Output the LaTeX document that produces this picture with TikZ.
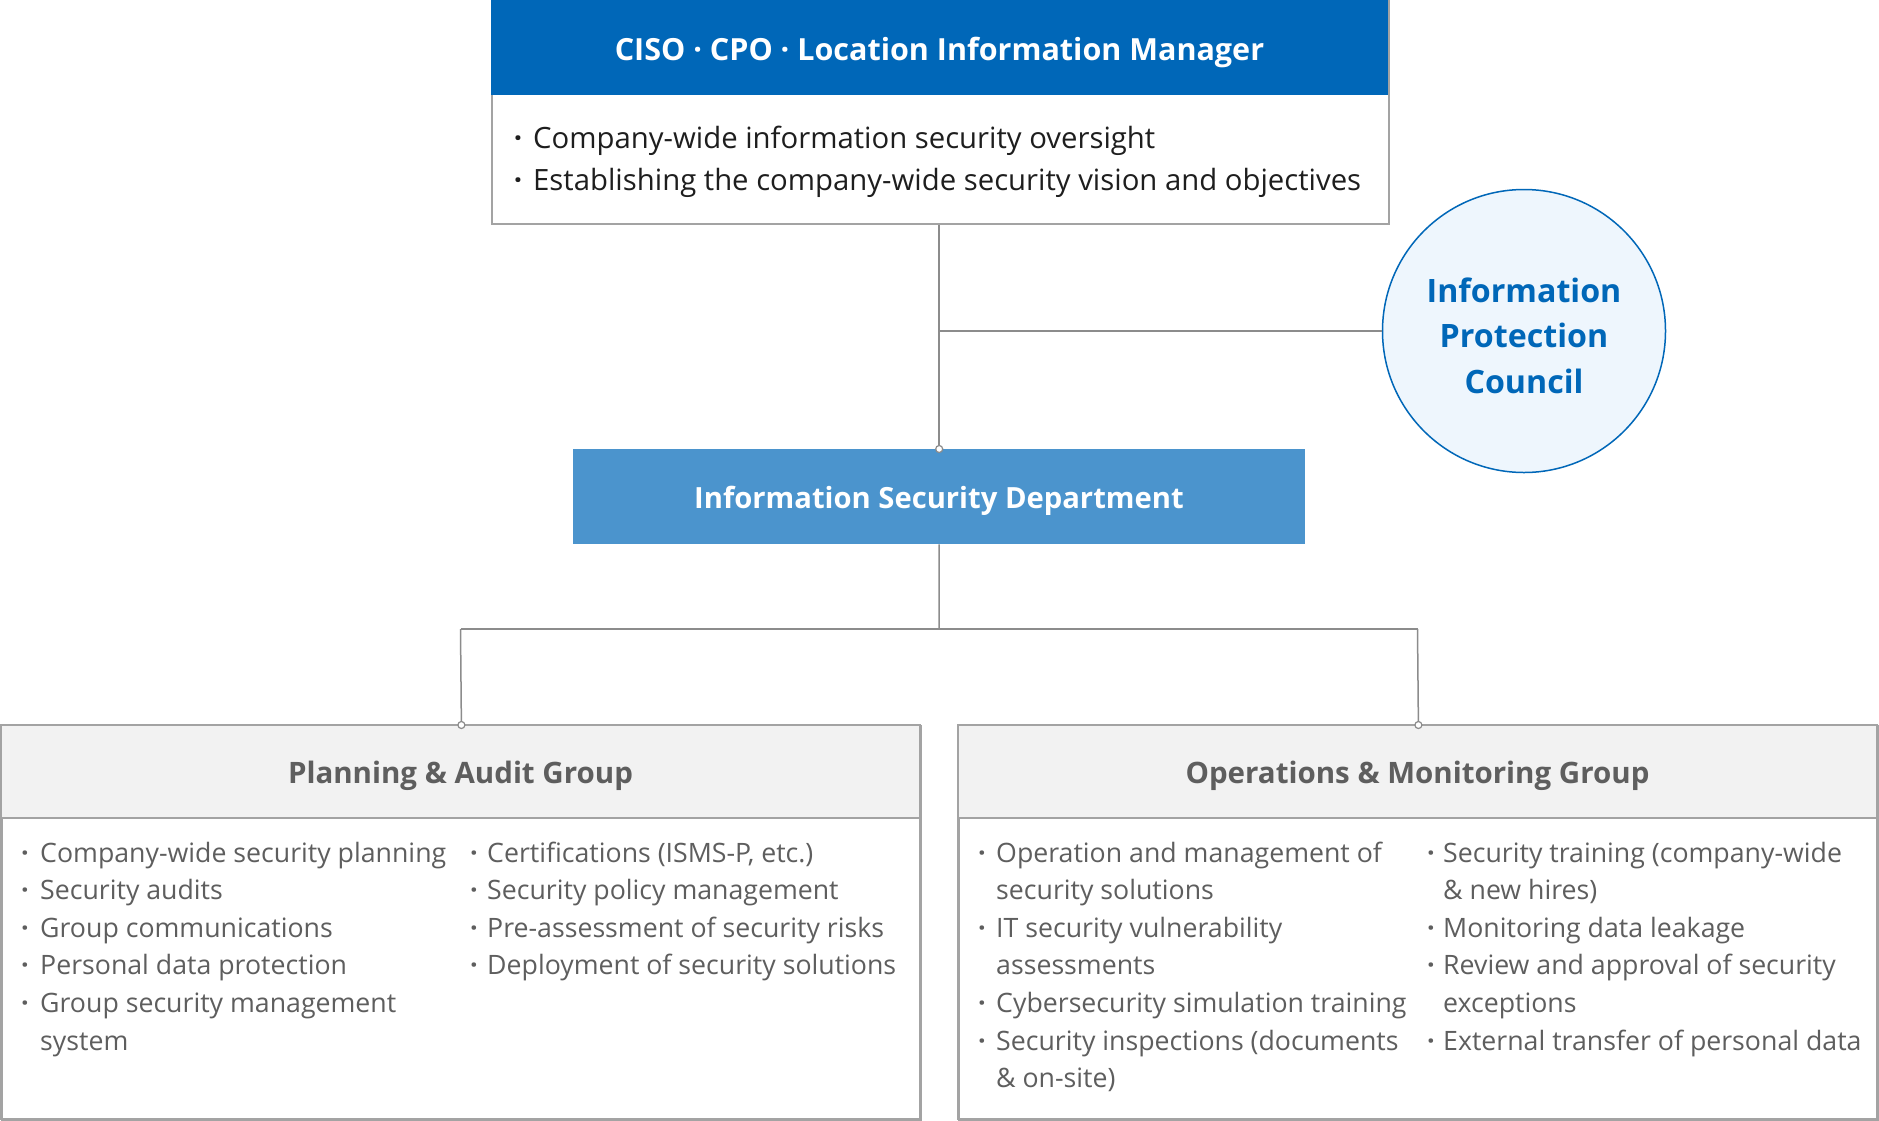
\documentclass[tikz,border=0pt]{standalone}
\usepackage{fontspec}
\setmainfont{Open Sans}
\definecolor{topblue}{HTML}{0067B8}
\definecolor{midblue}{HTML}{4B94CD}
\definecolor{circfill}{HTML}{EEF6FD}
\definecolor{linegray}{HTML}{8C8C8C}
\definecolor{boxgray}{HTML}{A3A3A3}
\definecolor{headfill}{HTML}{F2F2F2}
\definecolor{grouptext}{HTML}{5E5E5E}
\definecolor{toptext}{HTML}{1E1E1E}
\newcommand\gitem[4]{\node[gtxt] (#1) at (#2,#3) {#4};}
\newcommand\gdot[3]{\node[gdotstyle] (#1) at (#2,#3) {·};}
\newcommand\titem[4]{\node[ttxt] (#1) at (#2,#3) {#4};}
\newcommand\tdot[3]{\node[tdotstyle] (#1) at (#2,#3) {·};}
\tikzset{
  gtxt/.style={anchor=base west, inner sep=0pt, text=grouptext, font=\fontsize{26.7}{31}\selectfont},
  gdotstyle/.style={anchor=base, inner sep=0pt, text=grouptext, font=\fontsize{26.7}{31}\selectfont\bfseries},
  ttxt/.style={anchor=base west, inner sep=0pt, text=toptext, font=\fontsize{29.3}{34}\selectfont},
  tdotstyle/.style={anchor=base, inner sep=0pt, text=toptext, font=\fontsize{29.3}{34}\selectfont\bfseries},
  conn/.style={draw=linegray, line width=1.5pt},
  joint/.style={circle, draw=linegray, fill=white, line width=1.2pt, minimum size=7pt, inner sep=0pt},
  boxline/.style={draw=boxgray, line width=1.8pt},
  headtxt/.style={anchor=base, inner sep=0pt, text=grouptext, font=\fontsize{29.5}{34}\selectfont\bfseries},
  whitetxt/.style={anchor=base, inner sep=0pt, text=white, font=\fontsize{29.2}{34}\selectfont\bfseries},
  circtxt/.style={anchor=base, inner sep=0pt, text=topblue, font=\fontsize{32.2}{38}\selectfont\bfseries},
}
\begin{document}
\begin{tikzpicture}[x=1pt,y=-1pt]
\useasboundingbox (0,0) rectangle (1879,1120);
\fill[white] (0,0) rectangle (1879,1120);

% top box
\node[draw=boxgray, line width=1.5pt, fill=white, minimum width=897pt, minimum height=223pt, anchor=north west, inner sep=0pt] (top) at (491,0) {};
\fill[topblue] (491,0) rectangle (1388,95);
\node[whitetxt, font=\fontsize{30.5}{35}\selectfont\bfseries] (toptitle) at (939.5,60) {CISO · CPO · Location Information Manager};
\tdot{td1}{518}{148}
\titem{tt1}{533}{148}{Company-wide information security oversight}
\tdot{td2}{518}{190}
\titem{tt2}{533}{190}{Establishing the company-wide security vision and objectives}

% council circle
\node[circle, draw=topblue, line width=1.5pt, fill=circfill, minimum size=283pt, inner sep=0pt] (council) at (1524,331) {};
\node[circtxt] (c1) at (1524,302) {Information};
\node[circtxt] (c2) at (1524,347.5) {Protection};
\node[circtxt] (c3) at (1524,393) {Council};

% department
\node[fill=midblue, minimum width=732pt, minimum height=95pt, anchor=north west, inner sep=0pt] (isd) at (573,449) {};
\node[whitetxt] (isdtxt) at (939,508) {Information Security Department};

% groups
\node[draw=boxgray, line width=1.8pt, fill=white, minimum width=919pt, minimum height=394pt, anchor=north west, inner sep=0pt] (left) at (1,725) {};
\fill[headfill] (1,725) rectangle (920,818);
\draw[boxline] (1,725) rectangle (920,1119);
\draw[boxline] (1,818) -- (920,818);
\node[headtxt] (lefthead) at (460.5,783) {Planning \& Audit Group};

\node[draw=boxgray, line width=1.8pt, fill=white, minimum width=919pt, minimum height=394pt, anchor=north west, inner sep=0pt] (right) at (958,725) {};
\fill[headfill] (958,725) rectangle (1877,818);
\draw[boxline] (958,725) rectangle (1877,1119);
\draw[boxline] (958,818) -- (1877,818);
\node[headtxt] (righthead) at (1417.5,783) {Operations \& Monitoring Group};

% connectors
\coordinate (mid1) at (939,331);
\coordinate (mid2) at (939,629);
\coordinate (lj) at (460.5,629);
\coordinate (rj) at (1417.5,629);
\draw[conn] (top.south -| isd.north) -- (isd.north);
\draw[conn] (mid1) -- (council.west);
\draw[conn] (isd.south) -- (mid2);
\draw[conn] (lj) -- (rj);
\draw[conn] (lj) -- (left.north);
\draw[conn] (rj) -- (right.north);
\node[joint] (j0) at (isd.north) {};
\node[joint] (j1) at (left.north) {};
\node[joint] (j2) at (right.north) {};

% left group items
\gdot{l1d}{25}{862}    \gitem{l1}{40}{862}{Company-wide security planning}
\gdot{l2d}{25}{899.6}  \gitem{l2}{40}{899.6}{Security audits}
\gdot{l3d}{25}{937.2}  \gitem{l3}{40}{937.2}{Group communications}
\gdot{l4d}{25}{974.8}  \gitem{l4}{40}{974.8}{Personal data protection}
\gdot{l5d}{25}{1012.4} \gitem{l5}{40}{1012.4}{Group security management}
                       \gitem{l5b}{40}{1050}{system}
\gdot{m1d}{474}{862}   \gitem{m1}{487}{862}{Certifications (ISMS-P, etc.)}
\gdot{m2d}{474}{899.6} \gitem{m2}{487}{899.6}{Security policy management}
\gdot{m3d}{474}{937.2} \gitem{m3}{487}{937.2}{Pre-assessment of security risks}
\gdot{m4d}{474}{974.8} \gitem{m4}{487}{974.8}{Deployment of security solutions}

% right group items
\gdot{r1d}{982}{862}    \gitem{r1}{996}{862}{Operation and management of}
                        \gitem{r1b}{996}{899.6}{security solutions}
\gdot{r2d}{982}{937.2}  \gitem{r2}{996}{937.2}{IT security vulnerability}
                        \gitem{r2b}{996}{974.8}{assessments}
\gdot{r3d}{982}{1012.4} \gitem{r3}{996}{1012.4}{Cybersecurity simulation training}
\gdot{r4d}{982}{1050}   \gitem{r4}{996}{1050}{Security inspections (documents}
                        \gitem{r4b}{996}{1087.6}{\& on-site)}
\gdot{s1d}{1431}{862}    \gitem{s1}{1443}{862}{Security training (company-wide}
                         \gitem{s1b}{1443}{899.6}{\& new hires)}
\gdot{s2d}{1431}{937.2}  \gitem{s2}{1443}{937.2}{Monitoring data leakage}
\gdot{s3d}{1431}{974.8}  \gitem{s3}{1443}{974.8}{Review and approval of security}
                         \gitem{s3b}{1443}{1012.4}{exceptions}
\gdot{s4d}{1431}{1050}   \gitem{s4}{1443}{1050}{External transfer of personal data}
\end{tikzpicture}
\end{document}
